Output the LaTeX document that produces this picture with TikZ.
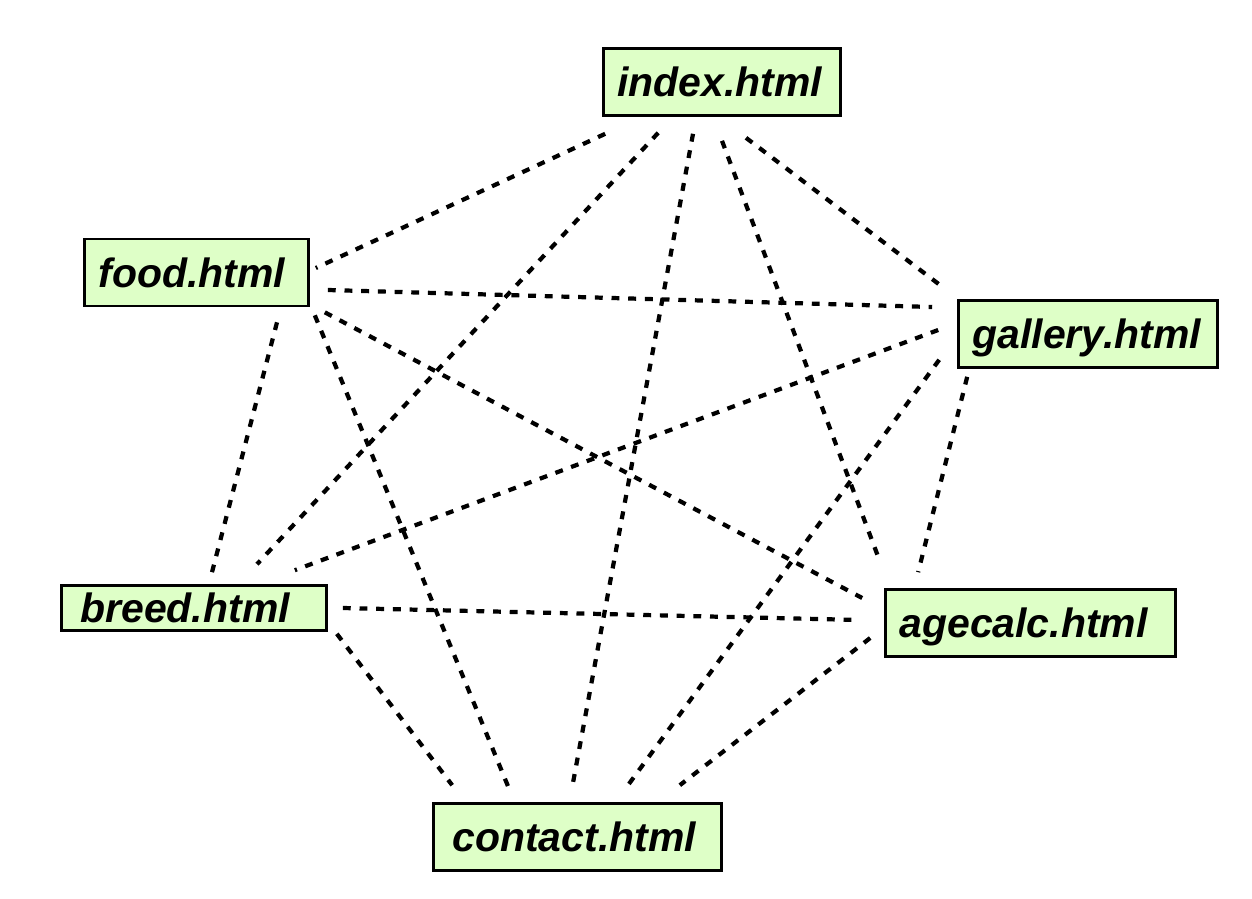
\documentclass[tikz,border=0pt]{standalone}
\usepackage{fontspec}
\setmainfont{Liberation Sans}
\usepackage{tikz}
\usetikzlibrary{positioning}
\definecolor{pagegreen}{RGB}{222,255,199}
\tikzset{
  pagebox/.style={
    draw=black,
    line width=1.5pt,
    fill=pagegreen,
    align=left,
    inner xsep=0.28cm,
    inner ysep=0.1cm,
    minimum height=1.34cm,
    text height=0.59cm,
    text depth=0pt,
    font=\fontsize{23.3pt}{28pt}\selectfont\bfseries\itshape
  },
  link/.style={line width=2.4pt, dash pattern=on 4.5pt off 5pt, draw=black}
}
\begin{document}
\begin{tikzpicture}
        \useasboundingbox (0,0) rectangle (25.04,-17.96);
        % pages
        \node[pagebox, text width=4.18cm] (index) at (14.44,-1.64) {index.html};
        \node[pagebox, text width=3.92cm] (food) at (3.93,-5.45) {food.html};
        \node[pagebox, text width=4.62cm] (gallery) at (21.76,-6.68) {gallery.html};
        \node[pagebox, text width=4.74cm, minimum height=0.90cm] (breed) at (3.88,-12.16) {\hspace{0.1cm}breed.html};
        \node[pagebox, text width=5.24cm] (agecalc) at (20.61,-12.46) {agecalc.html};
        \node[pagebox, text width=5.20cm] (contact) at (11.55,-16.74) {\hspace{0.1cm}contact.html};
        % links from index
        \draw[link] ([shift={(0.06,-0.34)}]index.south west) -- ([shift={(0.12,0.09)}]food.east);
        \draw[link] ([shift={(1.12,-0.32)}]index.south west) -- ([shift={(1.26,0.40)}]breed.north);
        \draw[link] ([shift={(-0.58,-0.34)}]index.south) -- ([shift={(-0.11,0.28)}]contact.north);
        \draw[link] ([shift={(0,-0.48)}]index.south) -- ([shift={(-0.08,0.52)}]agecalc.north west);
        \draw[link] ([shift={(0.48,-0.42)}]index.south) -- ([shift={(-0.34,0.28)}]gallery.north west);
        % links from food
        \draw[link] ([shift={(0.36,-0.35)}]food.east) -- ([shift={(-0.50,0.54)}]gallery.west);
        \draw[link] ([shift={(1.61,-0.30)}]food.south) -- ([shift={(0.36,0.24)}]breed.north);
        \draw[link] ([shift={(0.10,-0.16)}]food.south east) -- ([shift={(-1.39,0.32)}]contact.north);
        \draw[link] ([shift={(0.30,-0.10)}]food.south east) -- ([shift={(-0.44,0.50)}]agecalc.west);
        % links from gallery
        \draw[link] ([shift={(-0.38,0.08)}]gallery.west) -- ([shift={(-0.66,0.28)}]breed.north east);
        \draw[link] ([shift={(-0.36,0.18)}]gallery.south west) -- ([shift={(1.01,0.34)}]contact.north);
        \draw[link] ([shift={(0.20,-0.16)}]gallery.south west) -- ([shift={(0.68,0.32)}]agecalc.north west);
        % links from breed and agecalc
        \draw[link] ([shift={(0.30,0)}]breed.east) -- ([shift={(-0.48,0.06)}]agecalc.west);
        \draw[link] ([shift={(0.18,-0.04)}]breed.south east) -- ([shift={(0.40,0.34)}]contact.north west);
        \draw[link] ([shift={(-0.28,-0.30)}]agecalc.west) -- ([shift={(-0.86,0.34)}]contact.north east);
      \end{tikzpicture}
\end{document}
